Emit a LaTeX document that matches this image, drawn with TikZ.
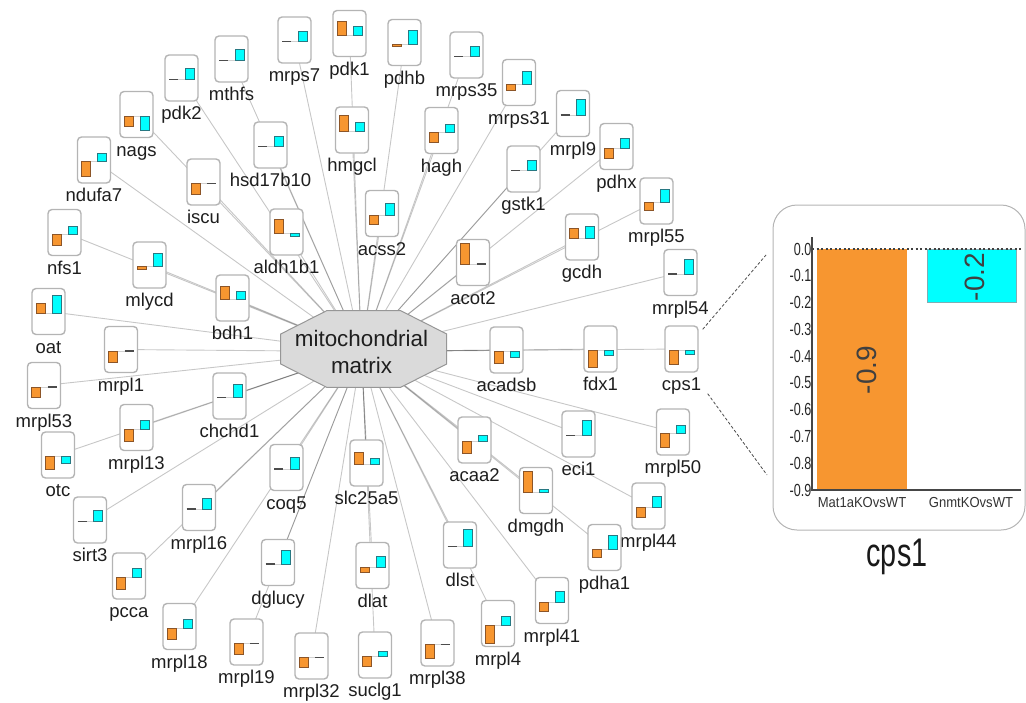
\documentclass[tikz,border=0pt]{standalone}
\usepackage{fontspec}
\setmainfont{Liberation Sans}
\newfontfamily\condfont[FakeStretch=0.72]{Liberation Sans}
\newfontfamily\semicondfont[FakeStretch=0.9]{Liberation Sans}
\usetikzlibrary{calc}
\definecolor{barorange}{RGB}{247,150,48}
\definecolor{barorangeedge}{RGB}{140,85,40}
\definecolor{barcyan}{RGB}{0,255,255}
\definecolor{barcyanedge}{RGB}{40,120,130}
\definecolor{boxedge}{RGB}{180,180,180}
\definecolor{hubfill}{RGB}{218,218,218}
\definecolor{hubedge}{RGB}{150,150,150}
\definecolor{txt}{RGB}{30,30,30}
\definecolor{axisgray}{RGB}{70,70,70}
\pgfdeclarelayer{edges}
\pgfsetlayers{edges,main}

\begin{document}
\begin{tikzpicture}[x=1pt,y=-1pt,
  genebox/.style={draw=boxedge, line width=1.4pt, fill=white, rounded corners=4pt,
    minimum width=33pt, minimum height=46pt, inner sep=0pt},
  genelabel/.style={anchor=base, inner sep=0pt, text=txt, font=\fontsize{18.5}{22}\selectfont},
  link/.style={draw=black, opacity=0.22, line width=0.9pt},
  baseln/.style={draw=black!18, line width=0.7pt},
  zerobar/.style={draw=black!70, line width=1.4pt},
  obar/.style={fill=barorange, draw=barorangeedge, line width=0.6pt},
  cbar/.style={fill=barcyan, draw=barcyanedge, line width=0.6pt},
  ticklabel/.style={anchor=east, inner sep=0.5pt, text=black!85, font={\condfont\fontsize{17.5}{19}\selectfont}},
  catlabel/.style={inner sep=0pt, text=black!80, font={\semicondfont\fontsize{14.5}{16}\selectfont}},
  vallabel/.style={rotate=90, inner sep=0pt, text=black!75, font=\fontsize{28}{30}\selectfont},
  zoomline/.style={draw=black!70, line width=0.8pt, dash pattern=on 3pt off 2pt}
]
\useasboundingbox (0,0) rectangle (1026,702);

% central hub: stretched octagon with its text
\filldraw[fill=hubfill, draw=hubedge, line width=1pt]
  (326.7,310.7) -- (400.7,310.7) -- (446.7,334) -- (446.7,364) -- (400.7,387.3)
  -- (326.7,387.3) -- (280.7,364) -- (280.7,334) -- cycle;
\node[align=center, inner sep=0pt, text=txt, font=\fontsize{22.4}{27}\selectfont]
  (hub) at (361.5,351.5) {mitochondrial\\matrix};

% gene nodes: name / x / y / orange value / cyan value (bar heights, up is positive)
\foreach \n/\x/\y/\o/\c in {
  mrps7/294.5/40/0/10, pdk1/349.5/33.5/14/9, pdhb/404.5/42.5/-2.5/14,
  mthfs/231.5/59/0/11.7, mrps35/466.5/55/0/10, pdk2/181.5/78/0/11,
  mrps31/519/82.5/-6/13, nags/136.5/114.5/-10.7/-14, mrpl9/573/113.5/0/16,
  hmgcl/352/130/16.7/9, hagh/441.5/130.5/-10/8, hsd17b10/270.5/145/0/10,
  ndufa7/94/160/-15/8, iscu/203.5/182/-10.7/0, pdhx/616.5/146.5/-10.5/10,
  gstk1/523.5/169/0/10.5, nfs1/64.5/232.5/-11/8, aldh1b1/286.5/232/14/-3,
  acss2/382/213.5/-9/12, gcdh/582/237/10/12, mrpl55/656.5/201/-8/13,
  mlycd/149.5/265/-3/13, acot2/473/262.5/21/0, mrpl54/680.5/272.5/0/14.7,
  bdh1/232.5/298/13/8, oat/48.5/311.5/9.3/17.7, mrpl1/121/349.5/-11/0,
  acadsb/506.5/350/-11.7/-6, fdx1/600.5/349/-16.7/-4.3, cps1/681.5/349/-14/-4,
  mrpl53/44/385.5/-10.7/0, chchd1/229.5/396/0/13, eci1/578.5/434/0/15,
  mrpl50/673/432/-13.7/8.7, mrpl13/136.5/427.5/-12.7/9, acaa2/474.5/440/-11.7/6,
  otc/58/455/-13/-7, coq5/286.5/467.5/0/12, slc25a5/366.5/463/12.7/6,
  dmgdh/536/490.5/20.7/2.3, mrpl44/648.5/506/-9.3/11.7, sirt3/90/520/0/11.7,
  mrpl16/199/507.5/0/11, pdha1/604.5/547.5/-8/14, dglucy/278/562.5/0/14,
  dlst/460/545/0/17, pcca/129/576/-11.7/9, dlat/372.5/565.5/-5/10.7,
  mrpl41/552/600.5/-9.3/11, mrpl18/179.5/626.5/-11.7/8.3, mrpl4/498/623.5/-18/8.3,
  mrpl19/246.5/642/-11/0, mrpl32/311.5/656/-9.7/0, suclg1/375/655/-9.3/5,
  mrpl38/437.5/643/-13.3/0}
{
  \node[genebox] (\n) at (\x,\y) {};
  \node[genelabel] (\n-name) at (\x,\y+41.5) {\n};
  \draw[baseln] ({\x-12.5},{\y+1.5}) -- ({\x+12.5},{\y+1.5});
  \ifdim\o pt=0pt
    \draw[zerobar] ({\x-12.5},{\y+1.5}) -- ({\x-3.5},{\y+1.5});
  \else
    \draw[obar] ({\x-12.5},{\y+1.5}) rectangle ({\x-3.5},{\y+1.5-(\o)});
  \fi
  \ifdim\c pt=0pt
    \draw[zerobar] ({\x+3.5},{\y+1.5}) -- ({\x+12.5},{\y+1.5});
  \else
    \draw[cbar] ({\x+3.5},{\y+1.5}) rectangle ({\x+12.5},{\y+1.5-(\c)});
  \fi
}

% links from the hub to every gene, kept behind the boxes
\begin{pgfonlayer}{edges}
\foreach \n in {mrps7,pdk1,pdhb,mthfs,mrps35,pdk2,mrps31,nags,mrpl9,hmgcl,hagh,
  hsd17b10,ndufa7,iscu,pdhx,gstk1,nfs1,aldh1b1,acss2,gcdh,mrpl55,mlycd,acot2,
  mrpl54,bdh1,oat,mrpl1,acadsb,fdx1,cps1,mrpl53,chchd1,eci1,mrpl50,mrpl13,acaa2,
  otc,coq5,slc25a5,dmgdh,mrpl44,sirt3,mrpl16,pdha1,dglucy,dlst,pcca,dlat,mrpl41,
  mrpl18,mrpl4,mrpl19,mrpl32,suclg1,mrpl38}
  \draw[link] (hub.center) -- (\n.center);
\end{pgfonlayer}

% enlarged chart of cps1
\node[draw=boxedge, line width=1pt, rounded corners=24pt, minimum width=252pt,
  minimum height=325pt, inner sep=0pt] (inset) at (899,367.5) {};
\coordinate (zin1) at (766,255);
\coordinate (zin2) at (767,475);
\draw[zoomline] ($(cps1.north east)+(4,4)$) -- (zin1);
\draw[zoomline] ($(cps1.south east)+(9,21)$) -- (zin2);

\fill[barorange] (817,249) rectangle (907,490);
\filldraw[fill=barcyan, draw=barcyanedge!60, line width=0.5pt] (927,249) rectangle (1016,302.6);
\draw[black!75, line width=1.3pt, dash pattern=on 2pt off 2.5pt] (812,249) -- (1021,249);
\draw[axisgray, line width=1.8pt] (812,237) -- (812,490) -- (1021,490);
\foreach \k/\t in {0/0.0,1/-0.1,2/-0.2,3/-0.3,4/-0.4,5/-0.5,6/-0.6,7/-0.7,8/-0.8,9/-0.9}
  \node[ticklabel] (tick\k) at (812,{249+\k*26.78}) {\t};
\node[catlabel] (cat1) at (862,503) {Mat1aKOvsWT};
\node[catlabel] (cat2) at (971,503) {GnmtKOvsWT};
\node[vallabel] (val1) at (866.7,370) {-0.9};
\node[vallabel] (val2) at (975,277) {-0.2};
\node[inner sep=0pt, text=black!90, font={\condfont\fontsize{40}{44}\selectfont}]
  (title) at (897,557) {cps1};
\end{tikzpicture}
\end{document}
